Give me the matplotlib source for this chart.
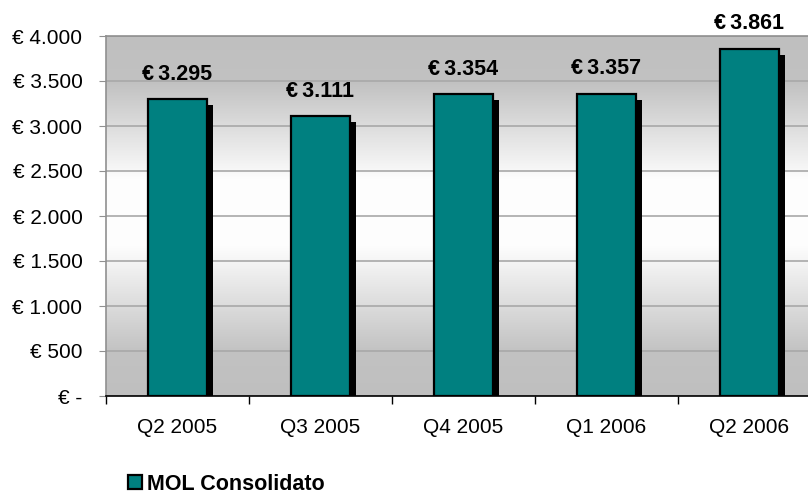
import numpy as np
import matplotlib.pyplot as plt
from matplotlib.ticker import FuncFormatter, FixedLocator

plt.rcParams['font.family'] = ['Liberation Sans', 'DejaVu Sans']

quarters = ['Q2 2005', 'Q3 2005', 'Q4 2005', 'Q1 2006', 'Q2 2006']
mol = [3295, 3111, 3354, 3357, 3861]
series_name = 'MOL Consolidato'


def euro_fmt(v, pos=None):
    if v == 0:
        return '€ -'
    return '€ ' + f'{int(v):,}'.replace(',', '.')


def main():
    fig = plt.figure(figsize=(8.08, 4.93), dpi=100)
    # plot area runs past the right edge, like the original screenshot
    ax = fig.add_axes([106 / 808, 1 - 396 / 493, 715 / 808, 360 / 493])

    x = np.arange(len(quarters))
    ax.set_xlim(-0.5, len(quarters) - 0.5)
    ax.set_ylim(0, 4000)

    # gray -> white -> gray background
    ys = np.linspace(0, 1, 300)
    shade = np.interp(ys, [0, 0.12, 0.42, 0.6, 0.87, 1],
                      [0.75, 0.76, 0.995, 0.995, 0.76, 0.75])
    grad = np.dstack([shade, shade, shade]).reshape(-1, 1, 3)
    ax.imshow(grad, extent=[-0.5, len(quarters) - 0.5, 0, 4000],
              aspect='auto', origin='lower', zorder=0)

    ax.yaxis.grid(True, color='#a8a8a8', linewidth=1.2, zorder=1)
    ax.set_axisbelow(True)

    w = 0.41
    # drop shadow
    ax.bar(x + 0.042, mol, width=w, bottom=-67, color='black', zorder=2)
    bars = ax.bar(x, mol, width=w, color='#008080', edgecolor='black',
                  linewidth=1.6, zorder=3, label=series_name)

    for xi, v in zip(x, mol):
        ax.annotate(euro_fmt(v).replace(' ', '\u2009'), (xi, v), xytext=(0, 18),
                    textcoords='offset points', ha='center', va='center',
                    fontsize=15.5, fontweight='bold', zorder=4)

    ax.yaxis.set_major_locator(FixedLocator(np.arange(0, 4001, 500)))
    ax.yaxis.set_major_formatter(FuncFormatter(euro_fmt))
    ax.tick_params(axis='y', length=5, color='#909090', labelsize=15, pad=12)

    ax.set_xticks(x)
    ax.set_xticklabels(quarters)
    ax.set_xticks(np.arange(-0.5, len(quarters)), minor=True)
    ax.tick_params(axis='x', which='major', length=0, labelsize=15, pad=16)
    ax.tick_params(axis='x', which='minor', length=6, width=1, color='black')

    for side in ['left', 'top', 'right']:
        ax.spines[side].set_color('#909090')
        ax.spines[side].set_linewidth(1.2)
    ax.spines['bottom'].set_color('black')
    ax.spines['bottom'].set_linewidth(1.2)

    fig.legend(handles=[bars], labels=[series_name], loc='center left',
               bbox_to_anchor=(128 / 808, 1 - 484 / 493), frameon=False,
               prop={'size': 15.5, 'weight': 'bold'}, handlelength=0.65,
               handleheight=0.65, handletextpad=0.25, borderpad=0,
               borderaxespad=0)

    fig.savefig('out.png', dpi=100)


if __name__ == '__main__':
    main()
